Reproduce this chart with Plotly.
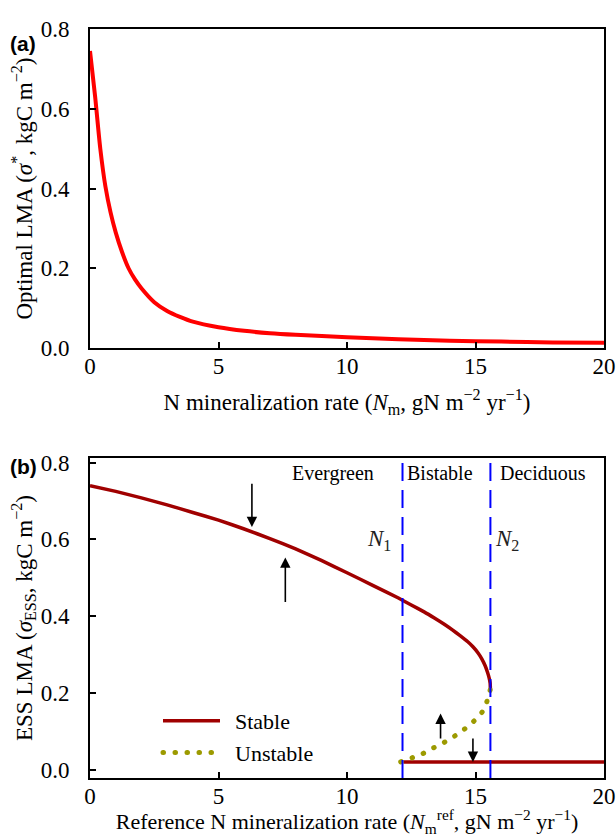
import plotly.graph_objects as go
from plotly.subplots import make_subplots

# Panel (a): optimal LMA vs N mineralization rate
a_x = [0, 0.2, 0.4, 0.6, 0.8, 1.0, 1.25, 1.5, 1.75, 2.0, 2.5, 3, 3.5, 4, 5, 6, 7, 8, 10, 12, 14, 16, 18, 20]
a_y = [0.745, 0.63, 0.50, 0.405, 0.34, 0.29, 0.24, 0.20, 0.172, 0.15, 0.115, 0.093, 0.078, 0.066, 0.052, 0.043, 0.037, 0.033, 0.027, 0.022, 0.018, 0.016, 0.014, 0.013]

# Panel (b): ESS LMA vs reference N mineralization rate
upper_x = [0, 1, 2, 3, 4, 5, 6, 7, 8, 9, 10, 11, 12, 12.5, 13.0, 13.4, 13.8, 14.1, 14.4, 14.7, 14.9,
           15.1, 15.25, 15.38, 15.47, 15.53, 15.57, 15.58]
upper_y = [0.74, 0.725, 0.708, 0.69, 0.67, 0.65, 0.627, 0.602, 0.575, 0.545, 0.513, 0.48, 0.447, 0.429, 0.411,
           0.395, 0.378, 0.364, 0.349, 0.333, 0.32, 0.304, 0.288, 0.27, 0.253, 0.239, 0.225, 0.21]
lower_x = [12.2, 20]
lower_y = [0.02, 0.02]
unst_x = [12.09, 12.55, 12.96, 13.35, 13.76, 14.18, 14.58, 14.98, 15.32, 15.47, 15.58]
unst_y = [0.02, 0.031, 0.042, 0.056, 0.070, 0.087, 0.106, 0.129, 0.156, 0.183, 0.21]
N1, N2 = 12.16, 15.58

region_labels = ["Evergreen", "Bistable", "Deciduous"]
region_x = [9.47, 13.63, 17.64]
region_y = 0.772

# arrows: (x, y_tail, y_head)
arrows = [(6.30, 0.749, 0.632), (7.60, 0.433, 0.553), (13.64, 0.077, 0.146), (14.90, 0.085, 0.020)]

SERIF = "Liberation Serif"
W, H = 616, 837
ml, mr, mt, mb = 90, 12, 29, 59
pw, ph = W - ml - mr, H - mt - mb
top_bottom_px, bot_top_px = 348, 458


def px_x(px):
    return (px - ml) / pw


def px_y(py):
    return 1 - (py - mt) / ph


fig = make_subplots(rows=2, cols=1)
fig.update_layout(
    yaxis=dict(domain=[px_y(top_bottom_px), 1]),
    yaxis2=dict(domain=[0, px_y(bot_top_px)]),
)

fig.add_trace(go.Scatter(x=a_x, y=a_y, mode="lines", line=dict(color="#ff0000", width=4, shape="spline", smoothing=0.6),
                         showlegend=False), row=1, col=1)

stable_col = "#a00000"
fig.add_trace(go.Scatter(x=upper_x, y=upper_y, mode="lines", name="Stable",
                         line=dict(color=stable_col, width=3.5, shape="spline", smoothing=0.4)), row=2, col=1)
fig.add_trace(go.Scatter(x=lower_x, y=lower_y, mode="lines", showlegend=False,
                         line=dict(color=stable_col, width=3.5)), row=2, col=1)
fig.add_trace(go.Scatter(x=unst_x, y=unst_y, mode="lines", name="Unstable",
                         line=dict(color="#9c9a00", width=5, dash="0.5px,11.5px", shape="spline")), row=2, col=1)

for xv in (N1, N2):
    fig.add_vline(x=xv, line=dict(color="#0000ff", width=2, dash="18px,9px"), row=2, col=1)

for lbl, xv in zip(region_labels, region_x):
    fig.add_annotation(x=xv, y=region_y, text=lbl, showarrow=False, xref="x2", yref="y2",
                       font=dict(family=SERIF, size=20, color="black"))

fig.add_annotation(x=11.8, y=0.598, text="<i>N</i><sub>1</sub>", showarrow=False, xref="x2", yref="y2",
                   xanchor="right", font=dict(family=SERIF, size=23, color="#222"))
fig.add_annotation(x=15.7, y=0.598, text="<i>N</i><sub>2</sub>", showarrow=False, xref="x2", yref="y2",
                   xanchor="left", font=dict(family=SERIF, size=23, color="#222"))

for xv, yt, yh in arrows:
    fig.add_annotation(x=xv, y=yh, ax=xv, ay=yt, xref="x2", yref="y2", axref="x2", ayref="y2",
                       showarrow=True, arrowhead=2, arrowsize=1.3, arrowwidth=1.6, arrowcolor="black", text="")

axis_common = dict(showline=True, linecolor="black", linewidth=2, mirror=True, ticks="inside", ticklen=6,
                   tickwidth=1.5, tickcolor="black", showgrid=False, zeroline=False,
                   tickfont=dict(family=SERIF, size=23, color="black"))
title_font = dict(family=SERIF, size=23, color="black")

fig.update_xaxes(**axis_common, range=[0, 20], tickvals=[0, 5, 10, 15, 20], ticklabelstandoff=-4)
fig.update_yaxes(**axis_common, tickformat=".1f", ticklabelstandoff=14)
fig.update_yaxes(range=[0, 0.8], tickvals=[0, 0.2, 0.4, 0.6, 0.8], row=1, col=1,
                 title=dict(text="Optimal LMA (<i>σ</i><sup>*</sup>, kgC m<sup>−2</sup>)", font=title_font, standoff=2))
fig.update_yaxes(range=[-0.022, 0.812], tickvals=[0, 0.2, 0.4, 0.6, 0.8], row=2, col=1,
                 title=dict(text="ESS LMA (<i>σ</i><sub>ESS</sub>, kgC m<sup>−2</sup>)", font=title_font, standoff=2))
fig.update_xaxes(row=1, col=1,
                 title=dict(text="N mineralization rate (<i>N</i><sub>m</sub>, gN m<sup>−2</sup> yr<sup>−1</sup>)",
                            font=title_font, standoff=16))
fig.update_xaxes(row=2, col=1,
                 title=dict(text="Reference N mineralization rate (<i>N</i><sub>m</sub><sup>ref</sup>, gN m<sup>−2</sup> yr<sup>−1</sup>)",
                            font=dict(family=SERIF, size=22, color="black"), standoff=14))

fig.add_annotation(text="<b>(a)</b>", x=px_x(8), y=px_y(30), xref="paper", yref="paper", showarrow=False,
                   xanchor="left", font=dict(family="Liberation Sans", size=21, color="black"))
fig.add_annotation(text="<b>(b)</b>", x=px_x(8), y=px_y(466), xref="paper", yref="paper", showarrow=False,
                   xanchor="left", font=dict(family="Liberation Sans", size=21, color="black"))

fig.update_layout(
    width=W, height=H, margin=dict(l=ml, r=mr, t=mt, b=mb, autoexpand=False),
    paper_bgcolor="white", plot_bgcolor="white",
    legend=dict(x=px_x(158), y=px_y(700), xanchor="left", yanchor="top", itemwidth=67,
                font=dict(family=SERIF, size=22, color="black"), bgcolor="rgba(0,0,0,0)", tracegroupgap=0),
)

post = """
document.body.style.margin='0';
document.querySelectorAll('.legend .legendlines path').forEach(function(p){
  p.setAttribute('d', 'M5,0h57');
});
document.querySelectorAll('path').forEach(function(p){
  var d = p.style.strokeDasharray || '';
  if (d.indexOf('11.5px') >= 0) { p.style.strokeLinecap = 'round'; }
});
"""
fig.write_html("out.html", post_script=post, config={"displayModeBar": False})
